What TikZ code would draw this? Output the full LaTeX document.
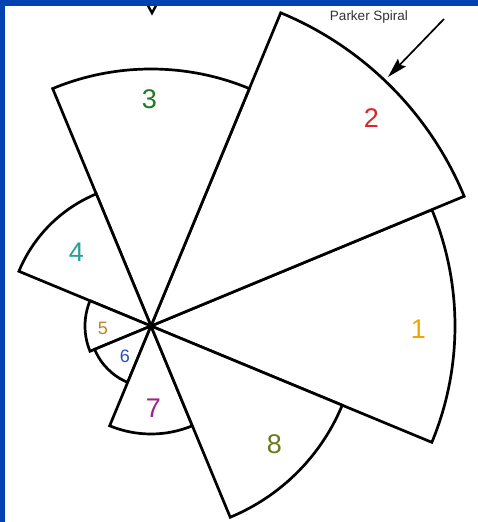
\documentclass[tikz,border=0pt]{standalone}
\usepackage{fontspec}
\setmainfont{Liberation Sans}
\usetikzlibrary{arrows.meta}
\definecolor{bandblue}{HTML}{0042B2}
\definecolor{cOne}{HTML}{F5A300}
\definecolor{cTwo}{HTML}{E02424}
\definecolor{cThree}{HTML}{1F7A22}
\definecolor{cFour}{HTML}{2A9E98}
\definecolor{cFive}{HTML}{B8862B}
\definecolor{cSix}{HTML}{2452C2}
\definecolor{cSeven}{HTML}{A0228E}
\definecolor{cEight}{HTML}{6B7A1F}
\definecolor{txtgray}{HTML}{333333}
\tikzset{
  sector/.style={draw=black, line width=2.7pt, line join=miter, fill=white},
  biglbl/.style={inner sep=0pt, font=\fontsize{27}{27}\selectfont},
  smalllbl/.style={inner sep=0pt, font=\fontsize{18}{18}\selectfont},
}
\begin{document}
\begin{tikzpicture}[x=1pt,y=1pt]
\useasboundingbox (0,0) rectangle (478,522);
\fill[white] (0,0) rectangle (478,522);
% small V at top, partly hidden by the band
\draw[line width=2.4pt] (145,522) -- (152,509) -- (159,522);
% blue bands
\fill[bandblue] (0,516) rectangle (478,522);
\fill[bandblue] (0,0) rectangle (5,522);
\coordinate (C) at (151,196);
% sectors
\draw[sector] (C) -- ++(-22.5:304pt) arc (-22.5:22.5:304pt) -- cycle;
\draw[sector] (C) -- ++(22.5:339pt) arc (22.5:67.5:339pt) -- cycle;
\draw[sector] (C) -- ++(67.5:257pt) arc (67.5:112.5:257pt) -- cycle;
\draw[sector] (C) -- ++(112.5:143pt) arc (112.5:157.5:143pt) -- cycle;
\draw[sector] (C) -- ++(157.5:66pt) arc (157.5:202.5:66pt) -- cycle;
\draw[sector] (C) -- ++(202.5:61pt) arc (202.5:247.5:61pt) -- cycle;
\draw[sector] (C) -- ++(247.5:108pt) arc (247.5:292.5:108pt) -- cycle;
\draw[sector] (C) -- ++(292.5:207pt) arc (292.5:337.5:207pt) -- cycle;
% labels
\node[biglbl, text=cOne]   (l1) at (418.5,193) {1};
\node[biglbl, text=cTwo]   (l2) at (371.5,404) {2};
\node[biglbl, text=cThree] (l3) at (149.5,423) {3};
\node[biglbl, text=cFour]  (l4) at (76.5,270) {4};
\node[smalllbl, text=cFive] (l5) at (103,194) {5};
\node[smalllbl, text=cSix]  (l6) at (125,166) {6};
\node[biglbl, text=cSeven] (l7) at (153.5,114) {7};
\node[biglbl, text=cEight] (l8) at (274.5,78) {8};
% Parker spiral annotation
\node[inner sep=0pt, text=txtgray, font=\fontsize{13.5}{13.5}\selectfont] (ps) at (369,505) {Parker Spiral};
\coordinate (arrS) at (444,503);
\coordinate (arrE) at (388,445);
\draw[line width=1.7pt, -{Stealth[length=20pt,width=11pt,inset=3pt]}] (arrS) -- (arrE);
\end{tikzpicture}
\end{document}
